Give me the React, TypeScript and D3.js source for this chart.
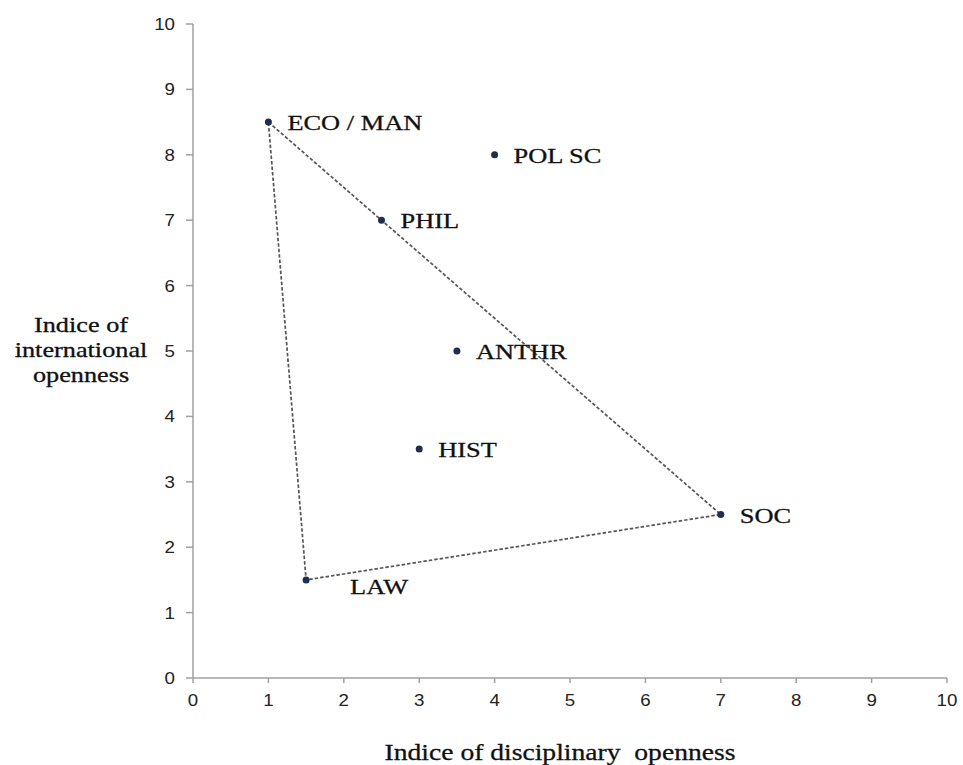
import * as d3 from 'd3';
import React, { useEffect, useRef } from 'react';

// disciplines and their two indices
const names = ['ECO / MAN', 'POL SC', 'PHIL', 'ANTHR', 'HIST', 'SOC', 'LAW'];
const disciplinary = [1, 4, 2.5, 3.5, 3, 7, 1.5];
const international = [8.5, 8, 7, 5, 3.5, 2.5, 1.5];
// vertices of the dashed envelope, in drawing order
const hull = ['ECO / MAN', 'SOC', 'LAW'];
const xTicks = [0, 1, 2, 3, 4, 5, 6, 7, 8, 9, 10];
const yTicks = [0, 1, 2, 3, 4, 5, 6, 7, 8, 9, 10];
const xTitle = 'Indice of disciplinary\u00a0 openness';
const yTitle = ['Indice of', 'international', 'openness'];

const width = 963;
const height = 765;
const SX = 1.2; // the original text is stretched sideways

const App = () => {
  const ref = useRef<SVGSVGElement>(null);

  useEffect(() => {
    const svg = d3.select(ref.current);
    svg.selectAll('*').remove();

    const x = d3.scaleLinear().domain([0, 10]).range([193, 947]);
    const y = d3.scaleLinear().domain([0, 10]).range([678, 24]);

    const pts = names.map((n, i) => ({ name: n, x: disciplinary[i], y: international[i] }));

    // axes
    const axisColor = '#a0a0a0';
    svg.append('line').attr('x1', x(0)).attr('x2', x(10)).attr('y1', y(0)).attr('y2', y(0))
      .attr('stroke', axisColor).attr('stroke-width', 1.5);
    svg.append('line').attr('x1', x(0)).attr('x2', x(0)).attr('y1', y(0)).attr('y2', y(10))
      .attr('stroke', axisColor).attr('stroke-width', 1.5);

    svg.selectAll('line.xt').data(xTicks).enter().append('line').attr('class', 'xt')
      .attr('x1', (d) => x(d)).attr('x2', (d) => x(d)).attr('y1', y(0)).attr('y2', y(0) + 5)
      .attr('stroke', axisColor).attr('stroke-width', 1.5);
    svg.selectAll('line.yt').data(yTicks).enter().append('line').attr('class', 'yt')
      .attr('x1', x(0) - 7).attr('x2', x(0)).attr('y1', (d) => y(d)).attr('y2', (d) => y(d))
      .attr('stroke', axisColor).attr('stroke-width', 1.5);

    const tickFont = '"Liberation Sans", Arial, sans-serif';
    svg.selectAll('text.xl').data(xTicks).enter().append('text').attr('class', 'xl')
      .attr('transform', (d) => `translate(${x(d)},${y(0) + 28}) scale(1.1,1)`)
      .attr('text-anchor', 'middle').attr('font-family', tickFont).attr('font-size', 17)
      .attr('fill', '#222').text((d) => d);
    svg.selectAll('text.yl').data(yTicks).enter().append('text').attr('class', 'yl')
      .attr('transform', (d) => `translate(${x(0) - 18},${y(d) + 6}) scale(1.1,1)`)
      .attr('text-anchor', 'end').attr('font-family', tickFont).attr('font-size', 17)
      .attr('fill', '#222').text((d) => d);

    // dashed envelope
    const hullPts = hull.map((h) => pts.find((p) => p.name === h)!);
    const line = d3.line<{ x: number; y: number }>().x((d) => x(d.x)).y((d) => y(d.y))
      .curve(d3.curveLinearClosed);
    svg.append('path').attr('d', line(hullPts)).attr('fill', 'none')
      .attr('stroke', '#555').attr('stroke-width', 1.7).attr('stroke-dasharray', '3.5,2');

    // points
    svg.selectAll('circle.pt').data(pts).enter().append('circle').attr('class', 'pt')
      .attr('cx', (d) => x(d.x)).attr('cy', (d) => y(d.y)).attr('r', 3.5).attr('fill', '#1c2f4d');

    const serif = '"Liberation Serif", "Times New Roman", serif';
    svg.selectAll('text.lab').data(pts).enter().append('text').attr('class', 'lab')
      .attr('transform', (d) => {
        const below = d.name === 'LAW';
        const tx = x(d.x) + (below ? 44 : 19);
        const ty = y(d.y) + (below ? 14 : 8);
        return `translate(${tx},${ty}) scale(${SX},1)`;
      })
      .attr('font-family', serif).attr('font-size', 22).attr('fill', '#111')
      .attr('stroke', '#111').attr('stroke-width', 0.3)
      .text((d) => d.name);

    // axis titles
    svg.append('text').attr('transform', `translate(560,760) scale(${SX},1)`)
      .attr('text-anchor', 'middle').attr('font-family', serif).attr('font-size', 23)
      .attr('fill', '#111').attr('stroke', '#111').attr('stroke-width', 0.3).text(xTitle);
    svg.selectAll('text.yt2').data(yTitle).enter().append('text').attr('class', 'yt2')
      .attr('transform', (d, i) => `translate(81,${332 + i * 25}) scale(1.25,1)`)
      .attr('text-anchor', 'middle').attr('font-family', serif).attr('font-size', 21)
      .attr('fill', '#111').attr('stroke', '#111').attr('stroke-width', 0.3).text((d) => d);
  }, []);

  return (
    <svg ref={ref} width={width} height={height} viewBox={`0 0 ${width} ${height}`}
      style={{ position: 'absolute', left: 0, top: 0, background: '#fff' }} />
  );
};

export default App;
